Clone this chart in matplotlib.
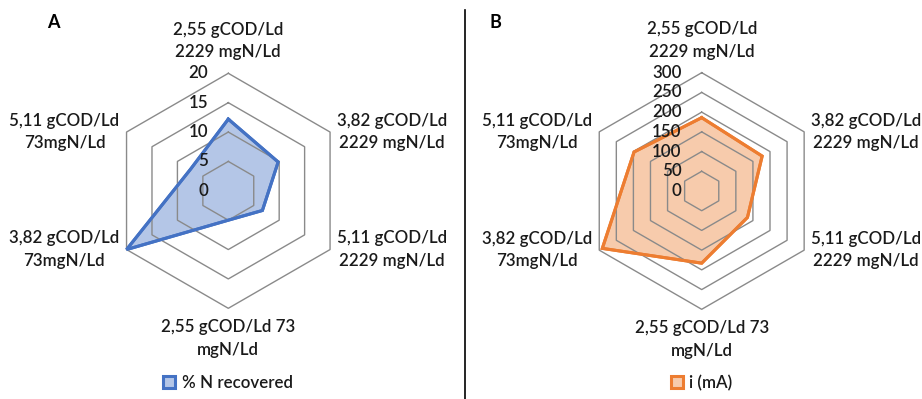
import numpy as np
import matplotlib.pyplot as plt
from matplotlib.lines import Line2D

plt.rcParams['font.family'] = ['Lato', 'DejaVu Sans']

categories = ['2,55 gCOD/Ld\n2229 mgN/Ld',
              '3,82 gCOD/Ld\n2229 mgN/Ld',
              '5,11 gCOD/Ld\n2229 mgN/Ld',
              '2,55 gCOD/Ld 73\nmgN/Ld',
              '3,82 gCOD/Ld\n73mgN/Ld',
              '5,11 gCOD/Ld\n73mgN/Ld']
n_recovered = [12.2, 9.8, 6.7, 5.0, 20.0, 7.4]
current_ma = [186, 177, 134, 183, 291, 198]
ticks_a = [0, 5, 10, 15, 20]
ticks_b = [0, 50, 100, 150, 200, 250, 300]

W, H = 922, 399
fig = plt.figure(figsize=(W / 100, H / 100), dpi=100)
txt = '#1a1a1a'
grid = '#8a8a8a'
fs = 12.2
fw = 'semibold'


def radar(x0, x1, cx, cy, R, ticks, values, color, label):
    vmax = ticks[-1]
    s = R / vmax  # px per data unit
    ax = fig.add_axes([x0 / W, 0, (x1 - x0) / W, 1])
    ax.set_xlim((x0 - cx) / s, (x1 - cx) / s)
    ax.set_ylim((cy - H) / s, cy / s)
    ax.axis('off')
    ang = np.pi / 2 - np.arange(6) * np.pi / 3
    c, sn = np.cos(ang), np.sin(ang)
    v = np.array(values, dtype=float)
    px = np.append(v * c, v[0] * c[0])
    py = np.append(v * sn, v[0] * sn[0])
    ax.fill(px, py, facecolor=(*plt.matplotlib.colors.to_rgb(color), 0.4),
            edgecolor=color, lw=2.2, zorder=1, label=label)
    for t in ticks[1:]:
        ax.plot(np.append(t * c, t * c[0]), np.append(t * sn, t * sn[0]),
                color=grid, lw=1.0, zorder=2)
    ax.plot(px, py, color=color, lw=2.2, zorder=3, solid_joinstyle='miter')
    for t in ticks:
        ax.text(-20 / s, t, str(t), ha='right', va='center', fontsize=fs,
                color=txt, fontweight=fw, zorder=4)
    off = 7 / s
    pos = [(0, vmax + 13 / s, 'center', 'bottom'),
           (vmax * c[1] + off, vmax * sn[1], 'left', 'center'),
           (vmax * c[2] + off, vmax * sn[2], 'left', 'center'),
           (0, -vmax - 11 / s, 'center', 'top'),
           (vmax * c[4] - off, vmax * sn[4], 'right', 'center'),
           (vmax * c[5] - off, vmax * sn[5], 'right', 'center')]
    for (x, y, ha, va), lab in zip(pos, categories):
        ax.text(x, y, lab, ha=ha, va=va, fontsize=fs, color=txt,
                fontweight=fw, multialignment='center', linespacing=1.5)
    ax.legend(loc='center', bbox_to_anchor=(cx / W, 1 - 383 / H),
              bbox_transform=fig.transFigure, frameon=False,
              prop={'size': fs, 'weight': fw},
              handlelength=0.7, handleheight=0.7, handletextpad=0.4,
              labelcolor=txt)
    return ax


radar(0, 463, 228.3, 190.8, 117.5, ticks_a, n_recovered, '#4472C4',
      '% N recovered')
radar(466, 922, 701.7, 191.0, 118.3, ticks_b, current_ma, '#ED7D31',
      'i (mA)')

fig.text(53 / W, 1 - 23 / H, 'A', ha='center', va='center', fontsize=13,
         fontweight='bold', color='black')
fig.text(495 / W, 1 - 23 / H, 'B', ha='center', va='center', fontsize=13,
         fontweight='bold', color='black')
fig.add_artist(Line2D([465 / W, 465 / W], [0, 1 - 10 / H], color='black',
                      lw=1.2, transform=fig.transFigure))

fig.savefig('out.png', dpi=100)
